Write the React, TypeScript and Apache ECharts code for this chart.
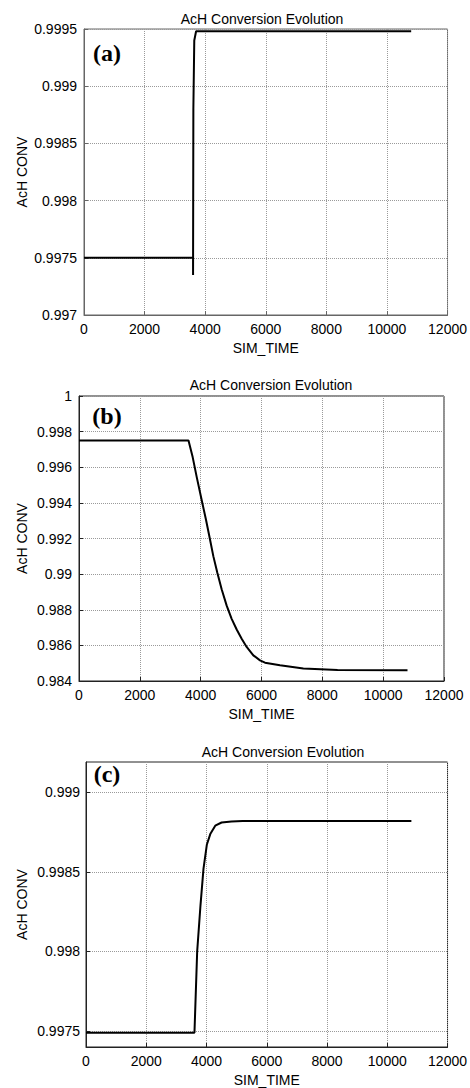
import React, { useEffect, useRef } from "react";
import * as echarts from "echarts";

const chartTitle = "AcH Conversion Evolution";
const xName = "SIM_TIME";
const yName = "AcH CONV";
const panelLabels = ["(a)", "(b)", "(c)"];

const xTicks = [0, 2000, 4000, 6000, 8000, 10000, 12000];

// Panel (a)
const timeA = [0, 3600, 3600, 3610, 3640, 3700, 10800];
const convA = [0.9975, 0.9975, 0.99735, 0.9988, 0.9994, 0.99948, 0.99948];

// Panel (b)
const timeB = [0, 3600, 3737, 3869, 4033, 4175, 4307, 4416, 4548, 4690, 4855, 5019, 5184, 5348, 5512, 5731, 5951, 6115, 6608, 7375, 8500, 10800];
const convB = [0.9975, 0.9975, 0.99657, 0.99546, 0.99416, 0.99305, 0.99194, 0.99101, 0.99008, 0.98915, 0.98823, 0.98749, 0.98689, 0.98637, 0.98591, 0.98544, 0.98516, 0.98503, 0.98488, 0.9847, 0.98462, 0.9846];

// Panel (c)
const timeC = [0, 3600, 3690, 3800, 3900, 4010, 4130, 4290, 4500, 4830, 5200, 10800];
const convC = [0.99749, 0.99749, 0.998, 0.99829, 0.99852, 0.99867, 0.99874, 0.99879, 0.99881, 0.998816, 0.99882, 0.99882];
const yTicksC = [0.9975, 0.998, 0.9985, 0.999];

const FONT = "Liberation Sans, Arial, sans-serif";

export default function App() {
  const ref = useRef<HTMLDivElement>(null);
  useEffect(() => {
    document.body.style.margin = "0";
    if (!ref.current) return;
    const chart = echarts.init(ref.current, null, { renderer: "svg" });

    const grids = [
      { left: 84, width: 364, top: 29, height: 286 },
      { left: 79, width: 365, top: 396, height: 285 },
      { left: 86, width: 366, top: 762, height: 286 },
    ];
    const borderColors = ["#666", "#222", "#222"];

    const splitLine = { show: true, lineStyle: { type: "dotted", color: "#9a9a9a", width: 1 } };
    const labelStyle = { fontSize: 14, color: "#000", fontFamily: FONT };
    const nameStyle = { fontSize: 14, color: "#000", fontFamily: FONT };

    const xAxes = grids.map((g, i) => ({
      type: "value",
      gridIndex: i,
      min: xTicks[0],
      max: xTicks[xTicks.length - 1],
      interval: 2000,
      axisLine: { show: true, lineStyle: { color: borderColors[i] } },
      axisTick: { show: true, inside: true, length: 4, lineStyle: { color: borderColors[i] } },
      axisLabel: { ...labelStyle, margin: 7, formatter: (v: number) => String(v) },
      splitLine,
      name: xName,
      nameLocation: "middle",
      nameGap: 26,
      nameMoveOverlap: false,
      nameTextStyle: nameStyle,
    }));

    const yBase = (i: number) => ({
      type: "value",
      gridIndex: i,
      axisLine: { show: true, lineStyle: { color: borderColors[i] } },
      axisTick: { show: true, inside: true, length: 4, lineStyle: { color: borderColors[i] } },
      axisLabel: { ...labelStyle, margin: 7 },
      splitLine,
      name: yName,
      nameLocation: "middle",
      nameGap: grids[i].left - 22 - 7,
      nameMoveOverlap: false,
      nameTextStyle: nameStyle,
    });

    const yAxes = [
      { ...yBase(0), min: 0.997, max: 0.9995, interval: 0.0005 },
      { ...yBase(1), min: 0.984, max: 1, interval: 0.002 },
      {
        ...yBase(2),
        min: 0.9974,
        max: 0.99919,
        axisTick: { show: true, inside: true, length: 4, lineStyle: { color: borderColors[2] }, customValues: yTicksC },
        axisLabel: { ...labelStyle, margin: 6, customValues: yTicksC },
      },
    ];

    const mk = (t: number[], v: number[], i: number) => ({
      type: "line",
      xAxisIndex: i,
      yAxisIndex: i,
      data: t.map((x, k) => [x, v[k]]),
      symbol: "none",
      lineStyle: { color: "#000", width: 2 },
      z: 5,
    });

    const titlePos = [
      [262, 19],
      [271, 385],
      [283, 752],
    ];
    const labelPos = [
      [107, 53],
      [107, 416],
      [107, 774],
    ];

    const graphics: any[] = [];
    titlePos.forEach(([x, y]) =>
      graphics.push({
        type: "text",
        x,
        y,
        style: { text: chartTitle, font: `14px ${FONT}`, fill: "#000", textAlign: "center", textVerticalAlign: "middle" },
      })
    );
    labelPos.forEach(([x, y], i) =>
      graphics.push({
        type: "text",
        x,
        y,
        z: 10,
        style: {
          text: panelLabels[i],
          font: `bold 24px "Liberation Serif", "Times New Roman", serif`,
          fill: "#000",
          textAlign: "center",
          textVerticalAlign: "middle",
        },
      })
    );

    chart.setOption({
      animation: false,
      backgroundColor: "#fff",
      grid: grids.map((g, i) => ({ ...g, show: true, borderColor: borderColors[i], borderWidth: 1, backgroundColor: "transparent" })),
      xAxis: xAxes,
      yAxis: yAxes,
      series: [mk(timeA, convA, 0), mk(timeB, convB, 1), mk(timeC, convC, 2)],
      graphic: graphics,
    } as any);

    return () => chart.dispose();
  }, []);
  return <div ref={ref} style={{ width: 470, height: 1088 }} />;
}
